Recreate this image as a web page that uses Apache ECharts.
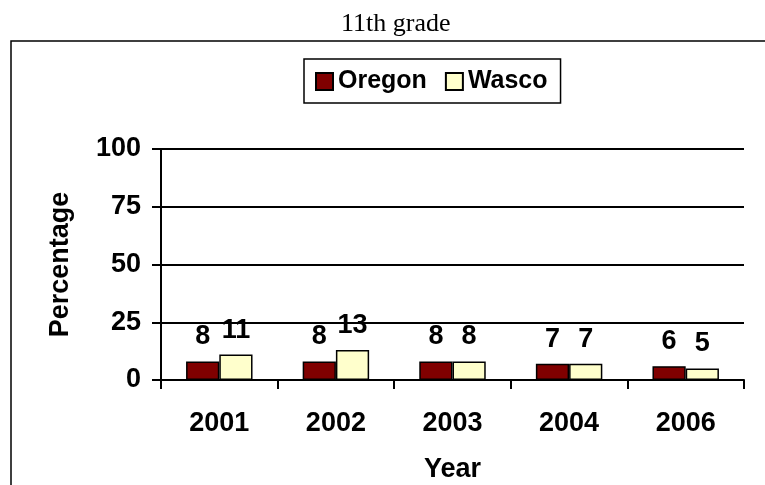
<!DOCTYPE html>
<html>
<head>
<meta charset="utf-8">
<style>
  html, body { margin: 0; padding: 0; background: #ffffff; }
  #chart { width: 765px; height: 485px; }
</style>
<script src="https://cdn.jsdelivr.net/npm/echarts@6/dist/echarts.min.js"></script>
</head>
<body>
<div id="chart"></div>
<script>
// Share of 11th graders by year, Oregon vs. Wasco County
const years = ['2001', '2002', '2003', '2004', '2006'];
const oregon = [8, 8, 8, 7, 6];
const wasco = [11, 13, 8, 7, 5];
const yTicks = [0, 25, 50, 75, 100];

const sans = '"Liberation Sans", Arial, sans-serif';
const serif = '"Liberation Serif", "Times New Roman", serif';

const chart = echarts.init(document.getElementById('chart'), null, { renderer: 'canvas' });

const valueLabel = {
  show: true,
  position: 'top',
  distance: 11,
  fontFamily: sans,
  fontWeight: 'bold',
  fontSize: 27,
  color: '#000'
};

chart.setOption({
  backgroundColor: '#ffffff',
  animation: false,
  title: {
    text: '11th grade',
    left: 336,
    top: 6,
    textStyle: { fontFamily: serif, fontWeight: 'normal', fontSize: 26, color: '#000' }
  },
  graphic: [
    {
      type: 'rect',
      shape: { x: 11, y: 41, width: 800, height: 500 },
      style: { fill: 'none', stroke: '#000', lineWidth: 1.5 },
      silent: true
    }
  ],
  legend: {
    data: ['Oregon', 'Wasco'],
    left: 304,
    top: 59,
    padding: [10, 13, 9, 11],
    itemGap: 18,
    itemWidth: 17,
    itemHeight: 17,
    borderColor: '#000',
    borderWidth: 1.5,
    icon: 'rect',
    textStyle: { fontFamily: sans, fontWeight: 'bold', fontSize: 25, color: '#000' }
  },
  grid: { left: 161, top: 149, width: 583, height: 231, containLabel: false },
  xAxis: {
    type: 'category',
    data: years,
    name: 'Year',
    nameLocation: 'middle',
    nameGap: 76,
    nameTextStyle: { fontFamily: sans, fontWeight: 'bold', fontSize: 27, color: '#000' },
    axisLine: { lineStyle: { color: '#000', width: 2 } },
    axisTick: { show: true, inside: false, length: 9, alignWithLabel: false, lineStyle: { color: '#000', width: 2 } },
    axisLabel: { margin: 30, fontFamily: sans, fontWeight: 'bold', fontSize: 27, color: '#000' }
  },
  yAxis: {
    type: 'value',
    min: yTicks[0],
    max: yTicks[yTicks.length - 1],
    interval: 25,
    name: 'Percentage',
    nameLocation: 'middle',
    nameGap: 87,
    nameRotate: 90,
    nameTextStyle: { fontFamily: sans, fontWeight: 'bold', fontSize: 27, color: '#000' },
    axisLine: { show: true, lineStyle: { color: '#000', width: 2 } },
    axisTick: { show: true, inside: false, length: 9, lineStyle: { color: '#000', width: 2 } },
    axisLabel: { margin: 20, fontFamily: sans, fontWeight: 'bold', fontSize: 27, color: '#000' },
    splitLine: { show: true, lineStyle: { color: '#000', width: 2 } }
  },
  series: [
    {
      name: 'Oregon',
      type: 'bar',
      data: oregon,
      barGap: '0%',
      barCategoryGap: '43%',
      itemStyle: { color: '#800000', borderColor: '#000', borderWidth: 1.5 },
      label: valueLabel
    },
    {
      name: 'Wasco',
      type: 'bar',
      data: wasco,
      itemStyle: { color: '#ffffcc', borderColor: '#000', borderWidth: 1.5 },
      label: valueLabel
    }
  ]
});
</script>
</body>
</html>
